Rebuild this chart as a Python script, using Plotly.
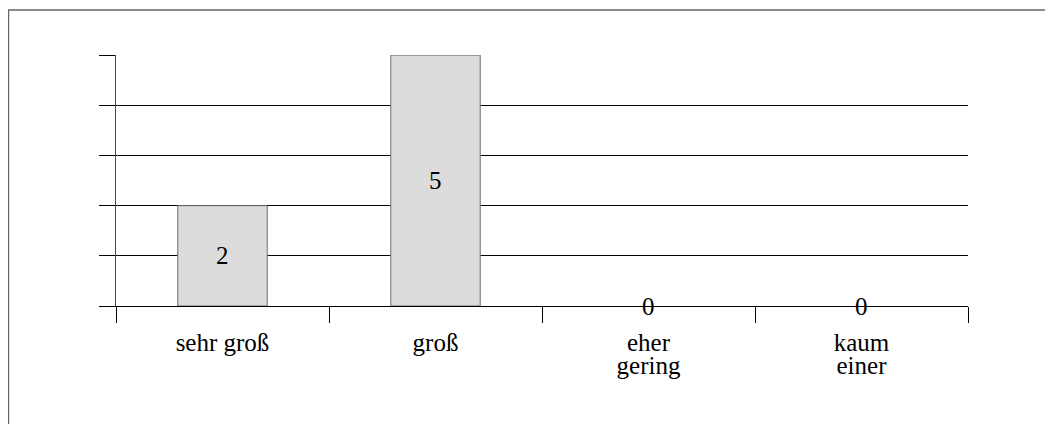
import plotly.graph_objects as go

categories = ["sehr groß", "groß", "eher<br>gering", "kaum<br>einer"]
values = [2, 5, 0, 0]

FONT = "Liberation Serif, Times New Roman, serif"
BIG = 25

def big(t):
    return "<br>".join(f'<span style="font-size:{BIG}px">{p}</span>' for p in t.split("<br>"))

fig = go.Figure()
fig.add_trace(go.Bar(
    x=categories, y=values, width=0.42,
    marker=dict(color="#dcdcdc",
                line=dict(color="#6e6e6e", width=[1 if v > 0 else 0 for v in values])),
    hoverinfo="skip",
))

for c, v in zip(categories, values):
    fig.add_annotation(x=c, y=v / 2, text=str(v), showarrow=False,
                       xanchor="center", yanchor="middle",
                       font=dict(family=FONT, size=BIG, color="#000000"))

fig.update_layout(
    width=1053, height=424,
    margin=dict(l=108, r=93, t=47, b=126),
    paper_bgcolor="white", plot_bgcolor="white",
    showlegend=False,
    font=dict(family=FONT, size=17, color="#000000"),
)
fig.update_xaxes(
    type="category", showgrid=False, showline=True, linecolor="#000000", linewidth=1,
    ticks="outside", tickson="boundaries", ticklen=16, tickcolor="#000000", tickwidth=1,
    tickfont=dict(family=FONT, size=17, color="#000000"),
    tickvals=categories, ticktext=[big(c) for c in categories],
    ticklabelstandoff=24,
)
fig.update_yaxes(
    range=[0, 5.003], showgrid=True, gridcolor="#000000", gridwidth=1,
    showline=True, linecolor="#444444", linewidth=1,
    ticks="outside", ticklen=16, tickcolor="#000000", tickwidth=1,
    dtick=1, showticklabels=False, zeroline=False,
)
fig.add_shape(type="rect", xref="paper", yref="paper",
              x0=-0.1262, x1=1.5, y0=-1.0, y1=1.1793,
              line=dict(color="#666666", width=1.5), fillcolor="rgba(0,0,0,0)", layer="below")

fig.write_html("out.html")
